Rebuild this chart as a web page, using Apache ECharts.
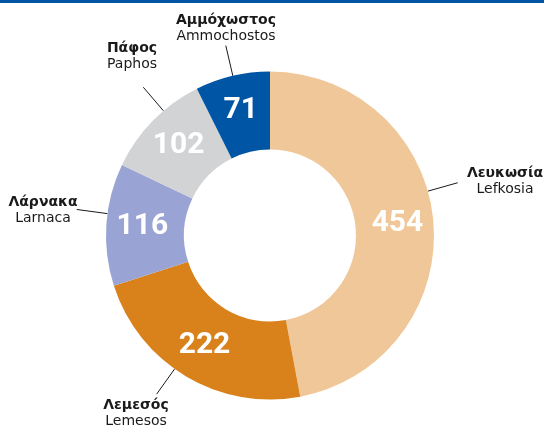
<!DOCTYPE html>
<html><head><meta charset="utf-8">
<script src="https://cdn.jsdelivr.net/npm/echarts@6/dist/echarts.min.js"></script>
<style>html,body{margin:0;padding:0;background:#fff}#c{width:544px;height:429px}</style>
</head><body><div id="c"></div>
<script>
// ---- data ----
const regionsGr = ['Λευκωσία', 'Λεμεσός', 'Λάρνακα', 'Πάφος', 'Αμμόχωστος'];
const regionsEn = ['Lefkosia', 'Lemesos', 'Larnaca', 'Paphos', 'Ammochostos'];
const counts = [454, 222, 116, 102, 71];

// ---- styles / layout ----
const sliceColors = ['#F0C799', '#D9821C', '#99A4D5', '#D2D3D5', '#0055A5'];
const CENTER = [270, 235.5], R_IN = 86, R_OUT = 164, LEAD = 31;
// label block centres, the side of the block the leader line points to, and a shift along that side
const labelSpots = [[505, 181, 'left', 0], [136, 413, 'top', 20], [43, 210, 'right', 0], [132, 56, 'bottom', 0], [226, 28.5, 'bottom', 0]];

const chart = echarts.init(document.getElementById('c'), null, {renderer: 'canvas'});
const txt = '#1a1a1a';
chart.setOption({
  animation: false,
  graphic: [{type: 'rect', left: 0, top: 0, shape: {width: 544, height: 3}, style: {fill: '#0055A5'}}],
  series: [
    {
      type: 'pie', center: CENTER, radius: [R_IN, R_OUT], startAngle: 90, clockwise: true,
      avoidLabelOverlap: false, silent: true, emphasis: {disabled: true},
      data: counts.map((v, i) => ({name: regionsEn[i], value: v, itemStyle: {color: sliceColors[i]}})),
      label: {show: true, position: 'inside', formatter: '{c}', color: '#fff',
        fontFamily: 'Roboto', fontWeight: 'bold', fontSize: 30},
      labelLine: {show: false}
    },
    {
      type: 'pie', center: CENTER, radius: [R_IN, R_OUT], startAngle: 90, clockwise: true,
      avoidLabelOverlap: false, silent: true, emphasis: {disabled: true},
      data: counts.map((v, i) => ({name: regionsEn[i], value: v, itemStyle: {color: 'rgba(0,0,0,0)'}})),
      label: {
        show: true, position: 'outside',
        formatter: p => '{g|' + regionsGr[p.dataIndex] + '}\n{e|' + regionsEn[p.dataIndex] + '}',
        rich: {
          g: {fontFamily: 'DejaVu Sans', fontWeight: 'bold', fontSize: 14, lineHeight: 16, color: txt, align: 'center'},
          e: {fontFamily: 'DejaVu Sans', fontSize: 14, lineHeight: 16, color: txt, align: 'center'}
        }
      },
      labelLine: {show: true, length: LEAD, length2: 0, lineStyle: {color: txt, width: 1}},
      labelLayout: function (p) {
        const s = labelSpots[p.dataIndex];
        const w = p.labelRect.width, h = p.labelRect.height, gap = 3;
        let tx = s[0], ty = s[1];
        if (s[2] === 'left') { tx -= w / 2 + gap; ty += s[3]; }
        else if (s[2] === 'right') { tx += w / 2 + gap; ty += s[3]; }
        else if (s[2] === 'top') { ty -= h / 2 + gap; tx += s[3]; }
        else { ty += h / 2 + gap; tx += s[3]; }
        const dx = tx - CENTER[0], dy = ty - CENTER[1], len = Math.hypot(dx, dy);
        const ux = dx / len, uy = dy / len;
        const p0 = [CENTER[0] + ux * R_OUT, CENTER[1] + uy * R_OUT];
        const p1 = [CENTER[0] + ux * (R_OUT + LEAD), CENTER[1] + uy * (R_OUT + LEAD)];
        return {x: s[0], y: s[1], align: 'center', verticalAlign: 'middle', labelLinePoints: [p0, p1, p1]};
      }
    }
  ]
});
</script>
</body></html>
